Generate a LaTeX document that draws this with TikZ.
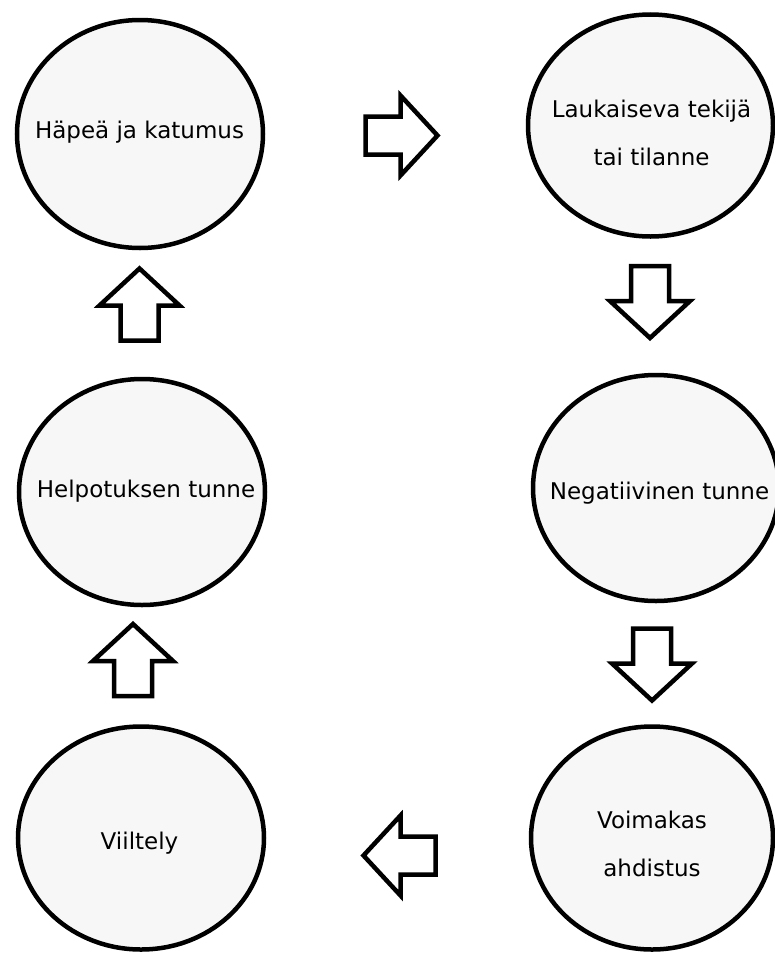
\documentclass[tikz,border=0pt]{standalone}
\usepackage{fontspec}
\setmainfont{DejaVu Sans}
\usetikzlibrary{shapes.geometric}
\definecolor{circfill}{HTML}{F7F7F7}
\tikzset{
  circ/.style={ellipse, draw=black, line width=4.5pt, fill=circfill, inner sep=0pt},
  txt/.style={inner sep=0pt, align=center, font=\fontsize{23}{48}\selectfont, text=black},
  arrowline/.style={draw=black, line width=4.5pt, fill=white, line join=miter},
  bigarrow/.pic={\path[arrowline] (0,-36) -- (40,1) -- (19,1) -- (19,36) -- (-19,36) -- (-19,1) -- (-40,1) -- cycle;}
}
\begin{document}
\begin{tikzpicture}[x=1pt, y=-1pt]
\useasboundingbox (0,0) rectangle (775,953);
\fill[white] (0,0) rectangle (775,953);
% circles
\node[circ, minimum width=246pt, minimum height=228pt] (c1) at (140,134) {};
\node[circ, minimum width=245pt, minimum height=222pt] (c2) at (650.5,125.5) {};
\node[circ, minimum width=246pt, minimum height=226pt] (c3) at (656,488) {};
\node[circ, minimum width=242pt, minimum height=223pt] (c4) at (652,838) {};
\node[circ, minimum width=246pt, minimum height=223pt] (c5) at (141,838) {};
\node[circ, minimum width=246pt, minimum height=226pt] (c6) at (142,492) {};
% texts
\node[txt] (t1) at (139.5,132) {Häpeä ja katumus};
\node[txt] (t2) at (651.5,133) {Laukaiseva tekijä\\tai tilanne};
\node[txt] (t3) at (659.5,493) {Negatiivinen tunne};
\node[txt] (t4) at (652,844) {Voimakas\\ahdistus};
\node[txt] (t5) at (139.5,843) {Viiltely};
\node[txt] (t6) at (146,491) {Helpotuksen tunne};
% block arrows
\pic[rotate=-90] at (401.5,135.5) {bigarrow};
\pic[rotate=180] at (650,302) {bigarrow};
\pic[rotate=180] at (652,664.5) {bigarrow};
\pic[rotate=90] at (399.5,855.5) {bigarrow};
\pic at (133,660) {bigarrow};
\pic at (139.5,304.5) {bigarrow};
\end{tikzpicture}
\end{document}
